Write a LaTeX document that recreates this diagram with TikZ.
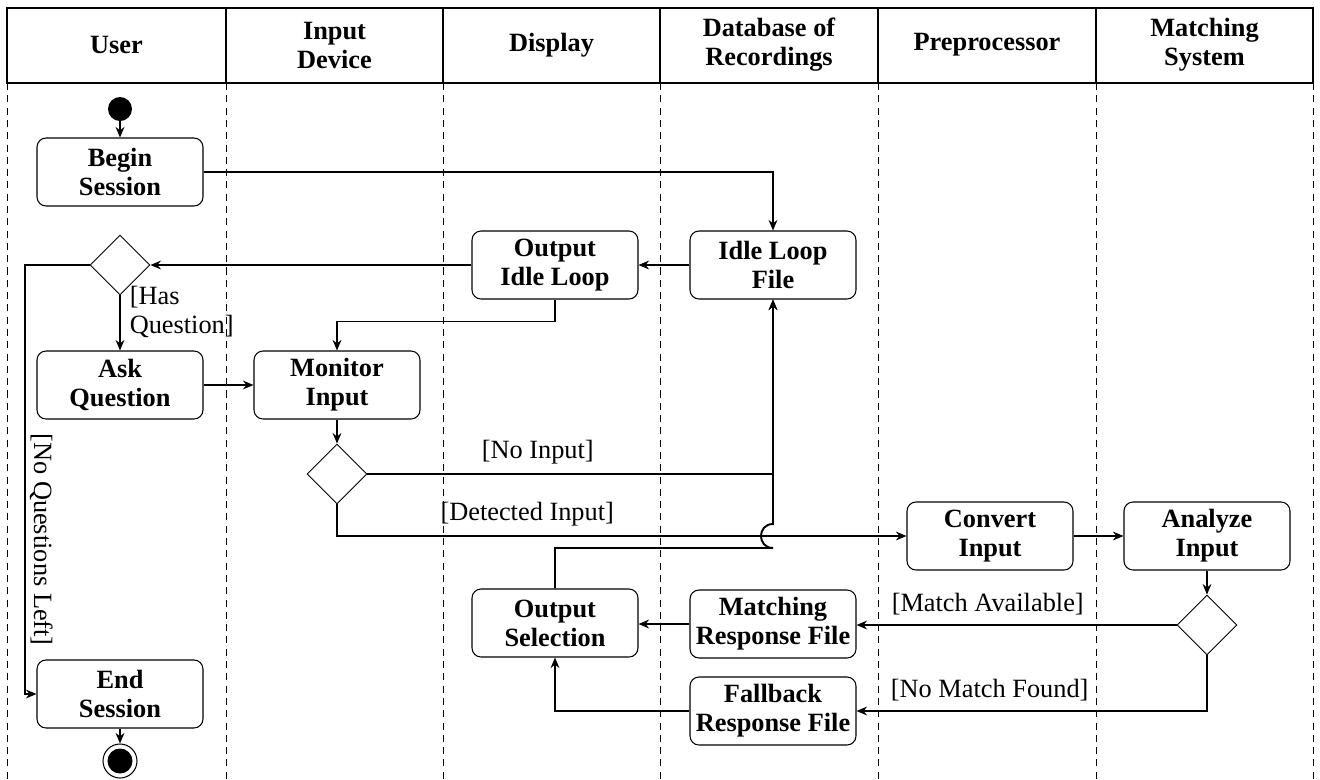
\documentclass[tikz,border=0pt]{standalone}
\usepackage{fontspec}
\setmainfont{Liberation Serif}
\usetikzlibrary{arrows.meta, shapes.geometric}

\tikzset{
  action/.style={draw, line width=0.6pt, rounded corners=0.18cm, align=center,
    font=\bfseries, minimum width=3.32cm, minimum height=1.36cm, inner sep=3pt},
  decision/.style={draw, diamond, line width=0.5pt, minimum width=1.2cm,
    minimum height=1.2cm, inner sep=0pt},
  lanehead/.style={align=center, font=\bfseries},
  guard/.style={font=\normalfont},
  flow/.style={->, line width=1.1pt},
  lane/.style={line width=0.5pt, dash pattern=on 4pt off 3pt},
}

\begin{document}
\fontsize{15}{16.5}\selectfont
\begin{tikzpicture}[x=0.02cm, y=-0.02cm, >={Stealth[length=6pt, width=5pt, inset=2pt]}]
\useasboundingbox (0,0) rectangle (1320,779);
% swimlanes
\draw[line width=0.6pt] (7,8) rectangle (1313,83);
\foreach \x in {226,443,660,878,1096} \draw[line width=0.6pt] (\x,8) -- (\x,83);
\foreach \x in {7,226,443,660,878,1096,1313} \draw[lane] (\x,83) -- (\x,779);
\node[lanehead] (hUser) at (116.5,45) {User};
\node[lanehead] (hInput) at (334.5,45) {Input\\Device};
\node[lanehead] (hDisplay) at (551.5,45) {Display};
\node[lanehead] (hData) at (769,45) {Database of\\Recordings};
\node[lanehead] (hPre) at (987,45) {Preprocessor};
\node[lanehead] (hMatch) at (1204.5,45) {Matching\\System};

% activities
\node[circle, fill, inner sep=0pt, minimum size=0.48cm] (start) at (120,109) {};
\node[action] (begin) at (120,172) {Begin\\Session};
\node[decision] (dec1) at (120,265) {};
\node[action] (outidle) at (555,265) {Output\\Idle Loop};
\node[action] (idlefile) at (773,265) {Idle Loop\\File};
\node[action] (ask) at (120,385) {Ask\\Question};
\node[action] (monitor) at (337,385) {Monitor\\Input};
\node[decision] (dec2) at (337,474) {};
\node[action] (convert) at (990,536) {Convert\\Input};
\node[action] (analyze) at (1207,536) {Analyze\\Input};
\node[decision] (dec3) at (1207,625) {};
\node[action] (outsel) at (555,623) {Output\\Selection};
\node[action] (matchfile) at (773,624) {Matching\\Response File};
\node[action] (fallfile) at (773,711) {Fallback\\Response File};
\node[action] (endsess) at (120,694) {End\\Session};
\node[circle, draw, line width=0.6pt, inner sep=0pt, minimum size=0.68cm] (stop) at (120,761) {};
\fill (stop.center) circle (0.25cm);

% flows
\draw[flow] (start) -- (begin);
\draw[flow] (begin.east) -| (idlefile.north);
\draw[flow] (idlefile) -- (outidle);
\draw[flow] (outidle) -- (dec1);
\draw[flow] (dec1) -- node[guard, right, pos=0.3, align=left] (gHas) {[Has\\Question]} (ask);
\draw[flow] (dec1.west) -- ++(-65,0) |- node[guard, pos=0.32, rotate=-90, anchor=south, inner sep=2.5pt] (gNoLeft) {[No Questions Left]} (endsess.west);
\draw[flow] (outidle.south) -- ++(0,22) -| (monitor.north);
\draw[flow] (ask) -- (monitor);
\draw[flow] (monitor) -- (dec2);
\draw[flow] (dec2.east) -| node[guard, pos=0.21, above] (gNoInput) {[No Input]} (idlefile.south);
\draw[flow] (dec2.south) |- node[guard, pos=0.667, above] (gDetected) {[Detected Input]} (convert.west);
\coordinate (hop) at (idlefile.south |- convert.west);
\draw[flow] (outsel.north) |- ([yshift=-0.24cm]hop) .. controls +(-16,0) and +(-16,0) .. ([yshift=0.24cm]hop) -- (idlefile.south);
\draw[flow] (convert) -- (analyze);
\draw[flow] (analyze) -- (dec3);
\draw[flow] (dec3.west) -- node[guard, pos=0.59, above] (gMatch) {[Match Available]} (dec3.west -| matchfile.east);
\draw[flow] (dec3.south) |- node[guard, pos=0.81, above] (gNoMatch) {[No Match Found]} (fallfile.east);
\draw[flow] (matchfile.west) -- (matchfile.west -| outsel.east);
\draw[flow] (fallfile.west) -| (outsel.south);
\draw[flow] (endsess) -- (stop);
\end{tikzpicture}
\end{document}
